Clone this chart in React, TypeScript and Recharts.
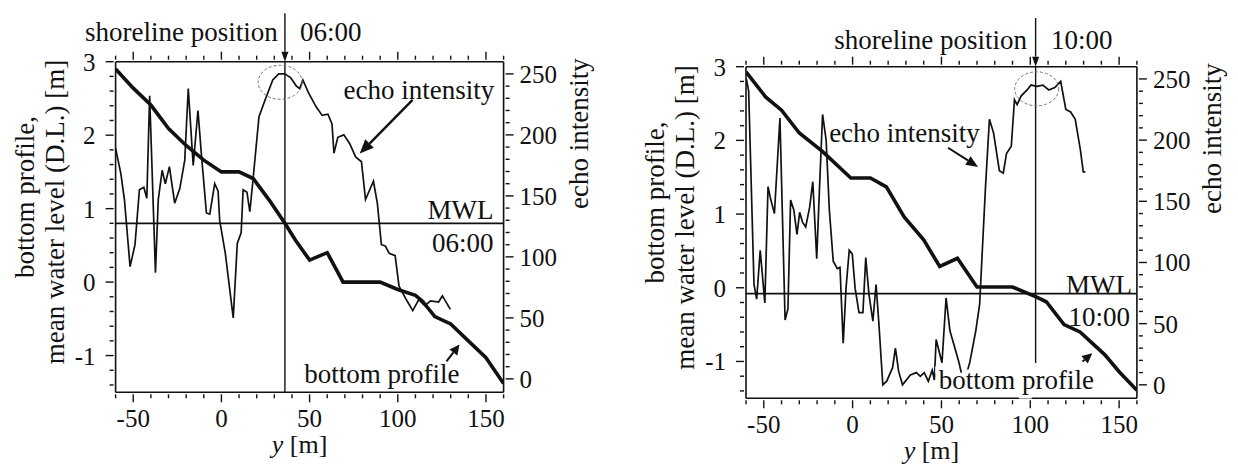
import React from "react";
import { LineChart, Line, XAxis, YAxis, ReferenceLine, ReferenceDot, Label } from "recharts";

const FONT = '"Liberation Serif", "Times New Roman", Times, serif';
const INK = "#111";

// axes
const X_TICKS = [-60, -50, -40, -30, -20, -10, 0, 10, 20, 30, 40, 50, 60, 70, 80, 90, 100, 110, 120, 130, 140, 150, 160];
const X_LABELS = [-50, 0, 50, 100, 150];
const Z_TICKS = [-1.4, -1.2, -1, -0.8, -0.6, -0.4, -0.2, 0, 0.2, 0.4, 0.6, 0.8, 1, 1.2, 1.4, 1.6, 1.8, 2, 2.2, 2.4, 2.6, 2.8, 3];
const Z_LABELS = [-1, 0, 1, 2, 3];
const ECHO_TICKS = [0, 10, 20, 30, 40, 50, 60, 70, 80, 90, 100, 110, 120, 130, 140, 150, 160, 170, 180, 190, 200, 210, 220, 230, 240, 250];
const ECHO_LABELS = [0, 50, 100, 150, 200, 250];

// 06:00
const bottomX06 = [-60, -50, -40, -30, -20, -10, 0, 10, 18, 27, 36, 42, 50, 60, 69, 90, 100, 110, 114, 121, 130, 140, 150, 160];
const bottomZ06 = [2.9, 2.64, 2.41, 2.09, 1.86, 1.66, 1.5, 1.5, 1.41, 1.12, 0.8, 0.57, 0.3, 0.4, 0.0, 0.0, -0.1, -0.18, -0.26, -0.47, -0.57, -0.8, -1.03, -1.38];
const echoX06 = [-60, -57, -55, -51.8, -49, -46.5, -44, -42.3, -40.7, -37.4, -35.8, -33.6, -31.8, -29.5, -26.5, -23.6, -20.8, -18.8, -16, -13.3, -11.3, -8.5, -6.6, -3.8, -1.9, -1, 2.2, 6.7, 9, 11.2, 12.3, 14.5, 16.1, 17.9, 21.3, 24.6, 29.1, 32.5, 35.8, 39.2, 42.5, 44.4, 46.2, 49.2, 53.7, 57.1, 60.4, 62.7, 63.8, 66, 69.4, 72.7, 76.1, 79.4, 81.7, 86.2, 88.4, 90.7, 92.9, 95.1, 98.5, 100.7, 105.2, 108.5, 111.9, 115.3, 118.6, 123.1, 125.3, 129.8];
const echoI06 = [189, 168, 147, 92, 110, 155, 157, 148, 232, 87, 147, 171, 160, 174, 144, 156, 179, 238, 175, 220, 183, 136, 135, 160, 154, 130, 103, 50, 111, 120, 155, 153, 137, 163, 215, 228, 245, 250, 250, 247, 240, 238, 245, 235, 223, 216, 217, 209, 185, 198, 200, 193, 182, 178, 147, 162, 144, 110, 109, 103, 101, 76, 64, 56, 65, 60, 64, 63, 68, 57];

// 10:00
const bottomX10 = [-60, -49, -40, -30, -17, -1, 10, 19, 29, 40, 49, 59, 70, 90, 103, 109, 119, 128, 142, 150, 160];
const bottomZ10 = [2.93, 2.59, 2.41, 2.1, 1.85, 1.49, 1.49, 1.37, 0.96, 0.65, 0.29, 0.4, 0.01, 0.01, -0.12, -0.19, -0.5, -0.6, -0.91, -1.14, -1.39];
const echoX10 = [-59.8, -58.5, -55.5, -54, -52, -49.4, -47.6, -46, -44, -40.9, -38, -36.4, -34.9, -33.1, -31.3, -29.8, -28.2, -26.4, -24.2, -22.4, -20.2, -18.6, -16.9, -14.9, -13.1, -10.9, -8.6, -7.1, -5.3, -3.7, -1.9, -0.2, 1.4, 3.6, 5.8, 7.4, 9.2, 11.4, 13.2, 14.7, 17, 19.2, 22.5, 24.1, 25.9, 28.1, 32.5, 35.9, 38.1, 40.3, 42.6, 44.8, 46, 47, 50.3, 52.6, 54.8, 57, 59.9, 62.5, 65.9, 69.3, 71.5, 74.8, 77, 79.3, 82.6, 84.8, 86.6, 89.3, 91.1, 92.6, 94.8, 98.2, 100.4, 103.7, 107.1, 110.4, 113.8, 117.1, 120, 122.7, 125.3, 128.2, 129.8, 131];
const echoI10 = [250, 240, 82, 70, 110, 67, 162, 151, 140, 218, 53, 62, 151, 143, 123, 141, 133, 129, 145, 166, 103, 162, 221, 200, 143, 101, 95, 96, 34, 79, 110, 107, 79, 59, 59, 104, 74, 52, 82, 52, 0, 3, 14, 30, 11, 0, 8, 10, 7, 10, 3, 12, 4, 37, 18, 71, 44, 33, 18, 1, 18, 44, 66, 162, 217, 206, 175, 173, 189, 195, 233, 229, 236, 241, 245, 244, 245, 241, 243, 248, 225, 223, 217, 192, 174, 174];

const pts = (xs: number[], vs: number[]) => xs.map((x, i) => ({ x, v: vs[i] }));

const txt = { fontFamily: FONT };

const BottomTick = (p: any) => {
  const major = X_LABELS.includes(p.payload.value);
  return (
    <g>
      <line x1={p.x} y1={p.y} x2={p.x} y2={p.y + (major ? 8 : 4)} stroke={INK} strokeWidth={1.4} />
      {major && (
        <text x={p.x} y={p.y + 33} textAnchor="middle" fontSize={25} style={txt} fill={INK}>
          {p.payload.value}
        </text>
      )}
    </g>
  );
};

const TopTick = (p: any) => {
  const major = X_LABELS.includes(p.payload.value);
  return <line x1={p.x} y1={p.y} x2={p.x} y2={p.y - (major ? 8 : 4)} stroke={INK} strokeWidth={1.4} />;
};

const LeftTick = (p: any) => {
  const major = Z_LABELS.includes(p.payload.value);
  return (
    <g>
      <line x1={p.x} y1={p.y} x2={p.x - (major ? 8 : 4)} y2={p.y} stroke={INK} strokeWidth={1.4} />
      {major && (
        <text x={p.x - 18} y={p.y + 9} textAnchor="end" fontSize={25} style={txt} fill={INK}>
          {p.payload.value}
        </text>
      )}
    </g>
  );
};

const RightTick = (p: any) => {
  const major = ECHO_LABELS.includes(p.payload.value);
  return (
    <g>
      <line x1={p.x} y1={p.y} x2={p.x + (major ? 8 : 4)} y2={p.y} stroke={INK} strokeWidth={1.4} />
      {major && (
        <text x={p.x + 14} y={p.y + 9} textAnchor="start" fontSize={25} style={txt} fill={INK}>
          {p.payload.value}
        </text>
      )}
    </g>
  );
};

const XTitle = (p: any) => {
  const vb = p.viewBox;
  return (
    <text x={vb.x + vb.width / 2 - 10} y={vb.y + 61} textAnchor="middle" fontSize={26} style={txt} fill={INK}>
      <tspan fontStyle="italic">y</tspan> [m]
    </text>
  );
};

const ZTitle = (p: any) => {
  const vb = p.viewBox;
  const cy = vb.y + vb.height / 2;
  const x1 = vb.x + vb.width - 91;
  const x2 = vb.x + vb.width - 61;
  return (
    <g fontSize={27} style={txt} fill={INK}>
      <text x={x1} y={cy - 30} transform={`rotate(-90, ${x1}, ${cy - 30})`} textAnchor="middle" dominantBaseline="central">
        bottom profile,
      </text>
      <text x={x2} y={cy - 15} transform={`rotate(-90, ${x2}, ${cy - 15})`} textAnchor="middle" dominantBaseline="central">
        mean water level (D.L.) [m]
      </text>
    </g>
  );
};

const EchoTitle = (p: any) => {
  const vb = p.viewBox;
  const x = vb.x + 75;
  const y = vb.y + 72;
  return (
    <text x={x} y={y} transform={`rotate(-90, ${x}, ${y})`} textAnchor="middle" dominantBaseline="central" fontSize={27} style={txt} fill={INK}>
      echo intensity
    </text>
  );
};

const arrowShape = (len: number, half: number, w: number) => (p: any) => {
  const { x1, y1, x2, y2 } = p;
  const a = Math.atan2(y2 - y1, x2 - x1);
  const bx = x2 - len * Math.cos(a);
  const by = y2 - len * Math.sin(a);
  const nx = -Math.sin(a) * half;
  const ny = Math.cos(a) * half;
  return (
    <g>
      <line x1={x1} y1={y1} x2={bx} y2={by} stroke={INK} strokeWidth={w} />
      <polygon points={`${x2},${y2} ${bx + nx},${by + ny} ${bx - nx},${by - ny}`} fill={INK} />
    </g>
  );
};

const noteShape = (text: string, anchor: string, halo: boolean) => (p: any) => (
  <text
    x={p.cx}
    y={p.cy}
    textAnchor={anchor}
    dominantBaseline="central"
    fontSize={27}
    style={txt}
    fill={INK}
    stroke={halo ? "#fff" : "none"}
    strokeWidth={halo ? 7 : 0}
    paintOrder="stroke"
  >
    {text}
  </text>
);

const ellipseShape = (rx: number, ry: number) => (p: any) => (
  <ellipse cx={p.cx} cy={p.cy} rx={rx} ry={ry} fill="none" stroke="#777" strokeWidth={1} strokeDasharray="3 2" />
);

type Note = { text: string; x: number; y: number; anchor: string; halo?: boolean };
type Arrow = { from: [number, number]; to: [number, number]; len: number; half: number; w: number };

type PanelProps = {
  width: number;
  leftW: number;
  rightW: number;
  top: number;
  bottomH: number;
  bottom: { x: number; v: number }[];
  echo: { x: number; v: number }[];
  mwl: number;
  shore: number;
  shoreLow: number;
  circle: [number, number];
  notes: Note[];
  arrows: Arrow[];
};

const Panel = (c: PanelProps) => (
  <LineChart width={c.width} height={465} margin={{ top: c.top, right: 0, bottom: 0, left: 0 }}>
    <XAxis xAxisId="b" type="number" dataKey="x" domain={[-60, 160]} ticks={X_TICKS} interval={0} tickSize={0} tickLine={false} tick={<BottomTick />} axisLine={{ stroke: INK, strokeWidth: 1.6 }} height={c.bottomH} allowDataOverflow>
      <Label content={XTitle} />
    </XAxis>
    <XAxis xAxisId="t" orientation="top" type="number" dataKey="x" domain={[-60, 160]} ticks={X_TICKS} interval={0} tickSize={0} tickLine={false} tick={<TopTick />} axisLine={{ stroke: INK, strokeWidth: 1.6 }} height={10} allowDataOverflow />
    <YAxis yAxisId="l" type="number" domain={[-1.5, 3]} ticks={Z_TICKS} interval={0} tickSize={0} tickLine={false} tick={<LeftTick />} axisLine={{ stroke: INK, strokeWidth: 1.6 }} width={c.leftW} allowDataOverflow>
      <Label content={ZTitle} />
    </YAxis>
    <YAxis yAxisId="r" orientation="right" type="number" domain={[-11, 260]} ticks={ECHO_TICKS} interval={0} tickSize={0} tickLine={false} tick={<RightTick />} axisLine={{ stroke: INK, strokeWidth: 1.6 }} width={c.rightW} allowDataOverflow>
      <Label content={EchoTitle} />
    </YAxis>

    <ReferenceLine xAxisId="b" yAxisId="l" y={c.mwl} stroke={INK} strokeWidth={1.8} />
    <ReferenceLine xAxisId="b" yAxisId="l" segment={[{ x: c.shore, y: 3 }, { x: c.shore, y: c.shoreLow }]} stroke={INK} strokeWidth={1.4} />
    <ReferenceLine xAxisId="b" yAxisId="l" segment={[{ x: c.shore, y: 3.66 }, { x: c.shore, y: 3 }]} ifOverflow="visible" shape={arrowShape(10, 3.5, 1.4)} />
    <ReferenceDot xAxisId="b" yAxisId="l" x={c.circle[0]} y={c.circle[1]} ifOverflow="visible" shape={ellipseShape(22, 17)} />

    <Line xAxisId="b" yAxisId="r" data={c.echo} dataKey="v" type="linear" stroke={INK} strokeWidth={1.7} dot={false} isAnimationActive={false} />
    <Line xAxisId="b" yAxisId="l" data={c.bottom} dataKey="v" type="linear" stroke={INK} strokeWidth={3.6} dot={false} isAnimationActive={false} />

    {c.arrows.map((a, i) => (
      <ReferenceLine key={`a${i}`} xAxisId="b" yAxisId="l" segment={[{ x: a.from[0], y: a.from[1] }, { x: a.to[0], y: a.to[1] }]} ifOverflow="visible" shape={arrowShape(a.len, a.half, a.w)} />
    ))}
    {c.notes.map((n, i) => (
      <ReferenceDot key={`n${i}`} xAxisId="b" yAxisId="l" x={n.x} y={n.y} ifOverflow="visible" shape={noteShape(n.text, n.anchor, !!n.halo)} />
    ))}
  </LineChart>
);

const notes06: Note[] = [
  { text: "shoreline position", x: 31.9, y: 3.4, anchor: "end" },
  { text: "06:00", x: 44.5, y: 3.4, anchor: "start" },
  { text: "echo intensity", x: 112, y: 2.62, anchor: "middle" },
  { text: "MWL", x: 154.3, y: 0.98, anchor: "end" },
  { text: "06:00", x: 154.3, y: 0.53, anchor: "end" },
  { text: "bottom profile", x: 135, y: -1.25, anchor: "end" },
];
const arrows06: Arrow[] = [
  { from: [108.4, 2.48], to: [78.4, 1.75], len: 14, half: 6, w: 2.4 },
  { from: [127.6, -1.08], to: [135, -0.85], len: 10, half: 5, w: 2 },
];

const notes10: Note[] = [
  { text: "shoreline position", x: 98.2, y: 3.36, anchor: "end" },
  { text: "10:00", x: 111.7, y: 3.36, anchor: "start" },
  { text: "echo intensity", x: 29.2, y: 2.1, anchor: "middle" },
  { text: "MWL", x: 157.3, y: 0.04, anchor: "end" },
  { text: "10:00", x: 156.1, y: -0.4, anchor: "end" },
  { text: "bottom profile", x: 135.9, y: -1.25, anchor: "end", halo: true },
];
const arrows10: Arrow[] = [
  { from: [53.7, 1.9], to: [70.6, 1.64], len: 12, half: 5, w: 2 },
  { from: [129.4, -1.0], to: [134.9, -0.89], len: 10, half: 5, w: 2 },
];

export default function App() {
  return (
    <div style={{ position: "absolute", left: 0, top: 0, width: 1238, height: 465, background: "#fff", fontFamily: FONT }}>
      <div style={{ position: "absolute", left: 0, top: 0 }}>
        <Panel
          width={620}
          leftW={115.6}
          rightW={116.4}
          top={51.7}
          bottomH={72.7}
          bottom={pts(bottomX06, bottomZ06)}
          echo={pts(echoX06, echoI06)}
          mwl={0.8}
          shore={36}
          shoreLow={-1.5}
          circle={[33.3, 2.72]}
          notes={notes06}
          arrows={arrows06}
        />
      </div>
      <div style={{ position: "absolute", left: 620, top: 0 }}>
        <Panel
          width={618}
          leftW={126}
          rightW={101.1}
          top={56.7}
          bottomH={66.7}
          bottom={pts(bottomX10, bottomZ10)}
          echo={pts(echoX10, echoI10)}
          mwl={-0.08}
          shore={103}
          shoreLow={-1.02}
          circle={[103.6, 2.7]}
          notes={notes10}
          arrows={arrows10}
        />
      </div>
    </div>
  );
}
